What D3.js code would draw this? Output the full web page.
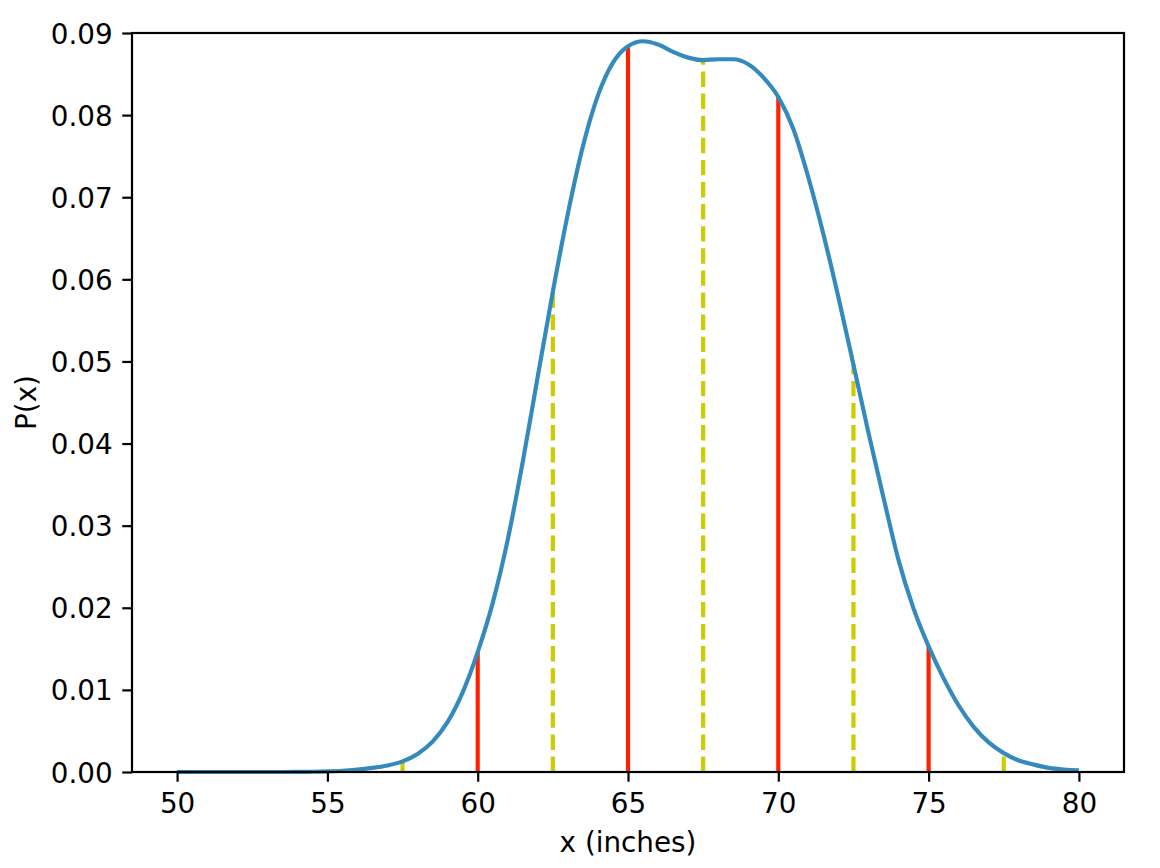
<!DOCTYPE html>
<html>
<head>
<meta charset="utf-8">
<script src="https://cdn.jsdelivr.net/npm/d3@7"></script>
<style>
  html, body { margin: 0; padding: 0; background: #fff; }
  svg text { font-family: "DejaVu Sans", sans-serif; fill: #000; }
</style>
</head>
<body>
<svg id="chart" width="1160" height="868"></svg>
<script>
// ---- data ----
const xValues = [50, 50.5, 51, 51.5, 52, 52.5, 53, 53.5, 54, 54.5, 55, 55.5, 56, 56.5, 57, 57.5,
  58, 58.5, 59, 59.5, 60, 60.5, 61, 61.5, 62, 62.5, 63, 63.5, 64, 64.5, 65, 65.5, 66, 66.5,
  67, 67.5, 68, 68.5, 69, 69.5, 70, 70.5, 71, 71.5, 72, 72.5, 73, 73.5, 74, 74.5, 75, 75.5,
  76, 76.5, 77, 77.5, 78, 78.5, 79, 79.5, 80];
const pValues = [0, 0, 0, 0, 0, 0, 0, 0, 0.00001, 0.00003, 0.00007, 0.00015, 0.0003, 0.0005, 0.0008, 0.0013,
  0.0022, 0.0037, 0.0061, 0.0097, 0.0146, 0.0206, 0.0283, 0.0378, 0.0482, 0.0585, 0.0680, 0.0762,
  0.0824, 0.0864, 0.0884, 0.0890, 0.0886, 0.0877, 0.0870, 0.0867, 0.0868, 0.0868, 0.0862, 0.0846,
  0.0822, 0.0783, 0.0724, 0.0655, 0.0578, 0.0496, 0.0413, 0.0334, 0.0258, 0.0199, 0.0153, 0.0114,
  0.0081, 0.0055, 0.0036, 0.0023, 0.0014, 0.0009, 0.0005, 0.0003, 0.0002];
const redLineX = [60, 65, 70, 75];
const yellowLineX = [57.5, 62.5, 67.5, 72.5, 77.5];
const xTicks = [50, 55, 60, 65, 70, 75, 80];
const yTicks = [0, 0.01, 0.02, 0.03, 0.04, 0.05, 0.06, 0.07, 0.08, 0.09];
const xLabel = "x (inches)";
const yLabel = "P(x)";

// ---- layout ----
const L = 132, R = 1124, T = 33, B = 772;
const fs = 27.8;
const lw = 4.17;
const svg = d3.select("#chart");

const x = d3.scaleLinear().domain([48.5, 81.5]).range([L, R]);
const y = d3.scaleLinear().domain([0, 0.09]).range([B, T]);

const pts = xValues.map((v, i) => [v, pValues[i]]);
const valueAt = xv => pValues[xValues.indexOf(xv)];

const plot = svg.append("g");

// vertical lines
plot.selectAll("path.red").data(redLineX).join("path")
  .attr("class", "red")
  .attr("d", d => `M${x(d)},${y(0)}L${x(d)},${y(valueAt(d))}`)
  .attr("stroke", "#ff2200").attr("stroke-width", lw).attr("fill", "none");

plot.selectAll("path.yel").data(yellowLineX).join("path")
  .attr("class", "yel")
  .attr("d", d => `M${x(d)},${y(0)}L${x(d)},${y(valueAt(d))}`)
  .attr("stroke", "#cccc00").attr("stroke-width", lw).attr("fill", "none")
  .attr("stroke-dasharray", "15.4,6.7");

// curve
const line = d3.line().x(d => x(d[0])).y(d => y(d[1])).curve(d3.curveMonotoneX);
plot.append("path").datum(pts)
  .attr("d", line)
  .attr("fill", "none")
  .attr("stroke", "#348abd")
  .attr("stroke-width", lw)
  .attr("stroke-linejoin", "round");

// axes
const xAxis = d3.axisBottom(x).tickValues(xTicks).tickFormat(d3.format("d"))
  .tickSizeInner(9.7).tickSizeOuter(0).tickPadding(9.7);
const yAxis = d3.axisLeft(y).tickValues(yTicks).tickFormat(d3.format(".2f"))
  .tickSizeInner(9.7).tickSizeOuter(0).tickPadding(9.7);

const gx = svg.append("g").attr("transform", `translate(0,${B})`).call(xAxis);
const gy = svg.append("g").attr("transform", `translate(${L},0)`).call(yAxis);
[gx, gy].forEach(g => {
  g.select(".domain").remove();
  g.selectAll(".tick line").attr("stroke", "#000").attr("stroke-width", 2.2);
  g.selectAll(".tick text").style("font-size", fs + "px").attr("font-family", "DejaVu Sans");
});
gx.selectAll(".tick text").attr("dy", "0.76em");
gy.selectAll(".tick text").attr("dy", "0.36em");

// frame
svg.append("rect").attr("x", L).attr("y", T).attr("width", R - L).attr("height", B - T)
  .attr("fill", "none").attr("stroke", "#000").attr("stroke-width", 2.2);

// labels
svg.append("text").attr("x", (L + R) / 2).attr("y", 852)
  .attr("text-anchor", "middle").style("font-size", fs + "px").text(xLabel);
svg.append("text").attr("transform", `translate(36,${(T + B) / 2}) rotate(-90)`)
  .attr("text-anchor", "middle").style("font-size", fs + "px").text(yLabel);
</script>
</body>
</html>
